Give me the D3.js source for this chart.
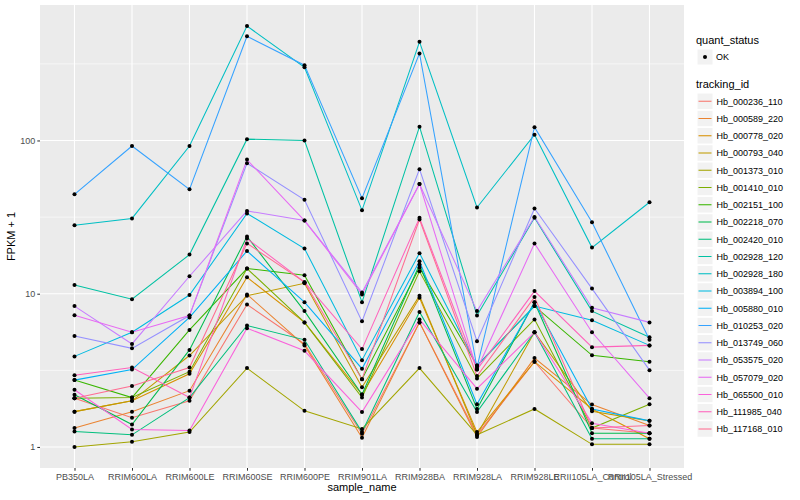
<!DOCTYPE html>
<html>
<head>
<script src="https://d3js.org/d3.v7.min.js"></script>
<style>
  body { margin: 0; background: #fff; }
  text { font-family: "Liberation Sans", Arial, Helvetica, sans-serif; }
</style>
</head>
<body>
<div id="graph"></div>
<script>
// sample names on the x axis
const samples = ["PB350LA", "RRIM600LA", "RRIM600LE", "RRIM600SE", "RRIM600PE", "RRIM901LA",
  "RRIM928BA", "RRIM928LA", "RRIM928LE", "RRII105LA_Control", "RRII105LA_Stressed"];

const trackingIds = ["Hb_000236_110", "Hb_000589_220", "Hb_000778_020", "Hb_000793_040",
  "Hb_001373_010", "Hb_001410_010", "Hb_002151_100", "Hb_002218_070", "Hb_002420_010",
  "Hb_002928_120", "Hb_002928_180", "Hb_003894_100", "Hb_005880_010", "Hb_010253_020",
  "Hb_013749_060", "Hb_053575_020", "Hb_057079_020", "Hb_065500_010", "Hb_111985_040",
  "Hb_117168_010"];

// FPKM + 1, one row per tracking id, in sample order
const fpkm = [
  [2.08, 1.55, 2.0, 8.5, 4.7, 1.22, 6.5, 1.2, 3.6, 1.33, 1.23],
  [1.33, 1.7, 2.33, 9.9, 4.6, 1.15, 6.5, 1.16, 3.8, 1.89, 1.38],
  [1.70, 2.0, 3.0, 12.8, 6.5, 2.2, 9.4, 1.25, 3.6, 1.77, 1.13],
  [1.70, 2.0, 3.95, 9.7, 11.7, 2.45, 9.7, 1.2, 5.6, 1.71, 1.48],
  [1.0, 1.08, 1.25, 3.27, 1.72, 1.31, 3.27, 1.2, 1.77, 1.04, 1.04],
  [2.08, 2.1, 3.1, 14.6, 6.5, 2.1, 14.0, 2.8, 6.8, 1.33, 1.9],
  [2.73, 2.1, 5.8, 14.6, 13.2, 2.77, 14.8, 3.4, 8.3, 3.96, 3.6],
  [2.19, 1.4, 4.3, 23.6, 7.7, 2.2, 15.5, 1.77, 8.8, 1.23, 1.23],
  [1.26, 1.2, 2.1, 6.2, 5.0, 1.25, 7.6, 1.69, 5.6, 1.13, 1.13],
  [11.4, 9.2, 18, 102, 100, 8.8, 123, 7.2, 31.3, 7.7, 5.2],
  [28, 31, 92, 558, 300, 35, 440, 36.5, 109, 20, 39.5],
  [3.9, 5.6, 9.8, 33.4, 19.7, 3.68, 18.4, 3.4, 8.3, 6.7, 4.6],
  [2.73, 3.2, 7.0, 19, 8.8, 3.24, 16.3, 1.9, 8.8, 1.77, 1.48],
  [44.5, 92, 48, 478, 310, 42, 370, 3.3, 122, 29.3, 5.0],
  [5.3, 4.4, 7.2, 71, 41, 6.6, 65, 4.9, 36, 10.8, 3.17],
  [8.3, 4.7, 13, 34.7, 30, 10.2, 52, 7.7, 31.7, 8.1, 6.5],
  [7.24, 5.6, 7.2, 75, 30, 9.9, 52, 3.2, 21.3, 5.6, 2.08],
  [2.36, 1.3, 1.28, 5.96, 4.24, 1.69, 6.8, 2.4, 5.6, 1.43, 1.23],
  [2.94, 3.3, 2.1, 22.9, 11.9, 4.35, 31.3, 3.2, 10.4, 4.48, 4.6],
  [2.08, 2.5, 3.3, 21.3, 11.9, 2.77, 30.5, 2.9, 9.5, 1.33, 1.38]
];

const yTicks = [1, 10, 100];
const yMinor = [3.16, 31.6, 316];

// ggplot hue palette for 20 groups
const colors = ["#F8766D", "#EA8331", "#D89000", "#C09B00", "#A3A500", "#7CAE00", "#39B600",
  "#00BB4E", "#00BF7D", "#00C1A3", "#00BFC4", "#00BAE0", "#00B0F6", "#35A2FF", "#9590FF",
  "#C77CFF", "#E76BF3", "#FA62DB", "#FF62BC", "#FF6C91"];

const W = 800, H = 500;
const panel = { left: 40, right: 684, top: 5, bottom: 468 };

const svg = d3.select("#graph").append("svg")
  .attr("width", W).attr("height", H);

const x = d3.scalePoint()
  .domain(samples)
  .range([panel.left, panel.right])
  .padding(0.6);

// log scale with 5% expansion like ggplot
const allVals = fpkm.flat();
const lo = Math.log10(d3.min(allVals)), hi = Math.log10(d3.max(allVals));
const ex = (hi - lo) * 0.05;
const y = d3.scaleLog()
  .domain([Math.pow(10, lo - ex), Math.pow(10, hi + ex)])
  .range([panel.bottom, panel.top]);

const colorScale = d3.scaleOrdinal().domain(trackingIds).range(colors);

// panel background + grid
svg.append("rect")
  .attr("x", panel.left).attr("y", panel.top)
  .attr("width", panel.right - panel.left).attr("height", panel.bottom - panel.top)
  .attr("fill", "#EBEBEB");

svg.selectAll(".minor")
  .data(yMinor)
  .join("line")
  .attr("x1", panel.left).attr("x2", panel.right)
  .attr("y1", d => y(d)).attr("y2", d => y(d))
  .attr("stroke", "#fff").attr("stroke-width", 0.55);

svg.selectAll(".hgrid")
  .data(yTicks)
  .join("line")
  .attr("x1", panel.left).attr("x2", panel.right)
  .attr("y1", d => y(d)).attr("y2", d => y(d))
  .attr("stroke", "#fff").attr("stroke-width", 1.1);

svg.selectAll(".vgrid")
  .data(samples)
  .join("line")
  .attr("y1", panel.top).attr("y2", panel.bottom)
  .attr("x1", d => x(d)).attr("x2", d => x(d))
  .attr("stroke", "#fff").attr("stroke-width", 1.1);

// lines
const line = d3.line()
  .x((d, i) => x(samples[i]))
  .y(d => y(d));

svg.selectAll(".series")
  .data(fpkm)
  .join("path")
  .attr("class", "series")
  .attr("fill", "none")
  .attr("stroke", (d, i) => colorScale(trackingIds[i]))
  .attr("stroke-width", 1.05)
  .attr("d", d => line(d));

// points
const pts = [];
fpkm.forEach(row => row.forEach((v, i) => pts.push({ s: samples[i], v: v })));
svg.selectAll(".dot")
  .data(pts)
  .join("circle")
  .attr("cx", d => x(d.s))
  .attr("cy", d => y(d.v))
  .attr("r", 2)
  .attr("fill", "#000");

// axes
const yAxis = svg.append("g")
  .attr("transform", `translate(${panel.left},0)`)
  .call(d3.axisLeft(y).tickValues(yTicks).tickFormat(d3.format("d")).tickSize(2.7).tickPadding(2));
const xAxis = svg.append("g")
  .attr("transform", `translate(0,${panel.bottom})`)
  .call(d3.axisBottom(x).tickSize(2.7).tickPadding(2.5));

[xAxis, yAxis].forEach(g => {
  g.select(".domain").remove();
  g.selectAll(".tick line").attr("stroke", "#333333").attr("stroke-width", 1.05);
  g.selectAll(".tick text").attr("fill", "#4D4D4D").style("font-size", "9px")
    .style("font-family", '"Liberation Sans", Arial, sans-serif');
});

svg.append("text")
  .attr("x", (panel.left + panel.right) / 2)
  .attr("y", 491)
  .attr("text-anchor", "middle")
  .style("font-size", "11px")
  .text("sample_name");

svg.append("text")
  .attr("transform", `translate(15,${(panel.top + panel.bottom) / 2}) rotate(-90)`)
  .attr("text-anchor", "middle")
  .style("font-size", "11px")
  .text("FPKM + 1");

// legends
const lg = svg.append("g");
lg.append("text").attr("x", 696).attr("y", 44).style("font-size", "11px").text("quant_status");
lg.append("rect").attr("x", 697).attr("y", 49).attr("width", 16).attr("height", 16)
  .attr("fill", "#F2F2F2").attr("stroke", "#fff");
lg.append("circle").attr("cx", 705).attr("cy", 57).attr("r", 2).attr("fill", "#000");
lg.append("text").attr("x", 716).attr("y", 60).style("font-size", "9px").text("OK");

lg.append("text").attr("x", 696).attr("y", 88).style("font-size", "11px").text("tracking_id");

const keyStep = 17.25, keyTop = 93;
const keys = lg.selectAll(".key")
  .data(trackingIds)
  .join("g")
  .attr("transform", (d, i) => `translate(697,${keyTop + i * keyStep})`);
keys.append("rect").attr("width", 16).attr("height", 16.5)
  .attr("fill", "#F2F2F2").attr("stroke", "#fff").attr("stroke-width", 1);
keys.append("line").attr("x1", 1.5).attr("x2", 14.5).attr("y1", 8.25).attr("y2", 8.25)
  .attr("stroke", d => colorScale(d)).attr("stroke-width", 1.05);
keys.append("text").attr("x", 19.5).attr("y", 11.5)
  .style("font-size", "9px").text(d => d);
</script>
</body>
</html>
